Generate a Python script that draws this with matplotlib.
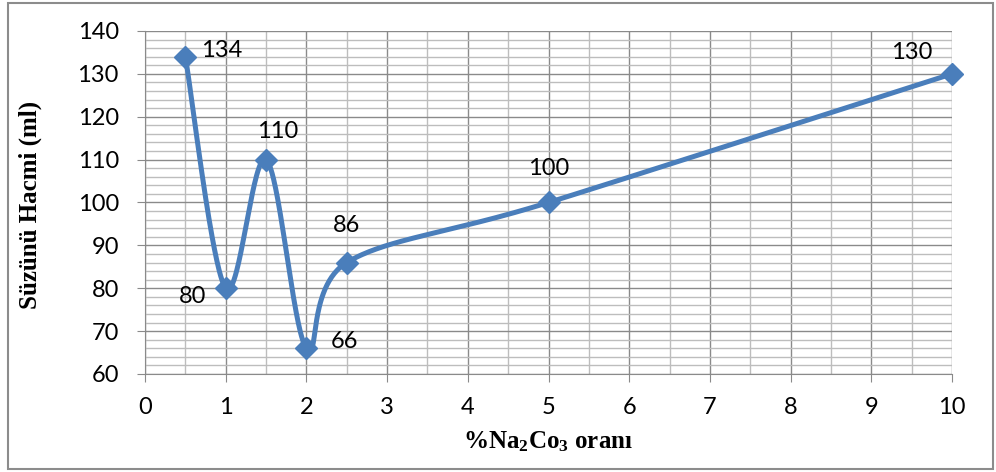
import numpy as np
import matplotlib
matplotlib.use('Agg')
import matplotlib.pyplot as plt
from matplotlib.patches import Rectangle
from matplotlib.ticker import MultipleLocator

plt.rcParams['mathtext.fontset'] = 'custom'
plt.rcParams['mathtext.rm'] = 'Liberation Serif:bold'
plt.rcParams['mathtext.it'] = 'Liberation Serif:bold'
plt.rcParams['mathtext.bf'] = 'Liberation Serif:bold'

oran = [0.5, 1, 1.5, 2, 2.5, 5, 10]
hacim = [134, 80, 110, 66, 86, 100, 130]
# label offsets in pixels, per point
lbl_off = [(36, 6), (-33, -8), (12, 28), (38, 7), (0, 37), (0, 34), (-40, 21)]

blue = '#4A7EBB'
tick_font = 'Lato'
fs = 17

fig = plt.figure(figsize=(9.96, 4.72), dpi=100)
ax = fig.add_axes([145/996, 98/472, 807/996, 343/472])
ax.set_xlim(0, 10)
ax.set_ylim(60, 140)

# smoothed line: catmull-rom in pixel space, like excel's smoothing
W, H = 807.0, 343.0
px = np.array(oran) / 10 * W
py = (np.array(hacim) - 60) / 80 * H
pts = np.column_stack([px, py])
n = len(pts)
curve = []
for i in range(n - 1):
    p0 = pts[max(i - 1, 0)]
    p1 = pts[i]
    p2 = pts[i + 1]
    p3 = pts[min(i + 2, n - 1)]
    c1 = p1 + (p2 - p0) / 6
    c2 = p2 - (p3 - p1) / 6
    t = np.linspace(0, 1, 60)[:, None]
    seg = ((1 - t) ** 3) * p1 + 3 * ((1 - t) ** 2) * t * c1 + 3 * (1 - t) * t ** 2 * c2 + t ** 3 * p2
    curve.append(seg if i == 0 else seg[1:])
curve = np.vstack(curve)
cx = curve[:, 0] / W * 10
cy = curve[:, 1] / H * 80 + 60

ax.plot(cx, cy, color=blue, lw=3.6, solid_capstyle='round', zorder=3, clip_on=False)
ax.plot(oran, hacim, 'D', color=blue, ms=11, zorder=4, clip_on=False)

for x, y, (dx, dy) in zip(oran, hacim, lbl_off):
    ax.annotate(str(y), (x, y), xytext=(dx, dy), textcoords='offset pixels',
                ha='center', va='center', fontsize=fs, family=tick_font)

ax.xaxis.set_major_locator(MultipleLocator(1))
ax.xaxis.set_minor_locator(MultipleLocator(0.5))
ax.yaxis.set_major_locator(MultipleLocator(10))
ax.yaxis.set_minor_locator(MultipleLocator(2))
ax.grid(which='major', color='#8a8a8a', lw=1.0)
ax.grid(which='minor', color='#bdbdbd', lw=1.0)
ax.set_axisbelow(True)

for s in ['top', 'right']:
    ax.spines[s].set_visible(False)
for s in ['left', 'bottom']:
    ax.spines[s].set_color('#8a8a8a')
ax.tick_params(which='major', length=5.8, color='#8a8a8a', labelsize=fs)
ax.tick_params(axis='y', pad=13)
ax.tick_params(axis='x', pad=11)
ax.tick_params(which='minor', length=0)
for lab in ax.get_xticklabels() + ax.get_yticklabels():
    lab.set_family(tick_font)

fig.text(30/996, 1 - 205/472, 'Süzünü Hacmi (ml)', rotation=90, ha='center', va='center',
         family='Liberation Serif', fontweight='bold', fontsize=18)
fig.text(548/996, 1 - 442/472, r'%Na$_2$Co$_3$ oranı', ha='center', va='center',
         family='Liberation Serif', fontweight='bold', fontsize=18)

fig.patches.append(Rectangle((8/996, 3/472), 985/996, 466/472, transform=fig.transFigure,
                             fill=False, ec='#8c8c8c', lw=1.5))

fig.savefig('out.png', dpi=100)
